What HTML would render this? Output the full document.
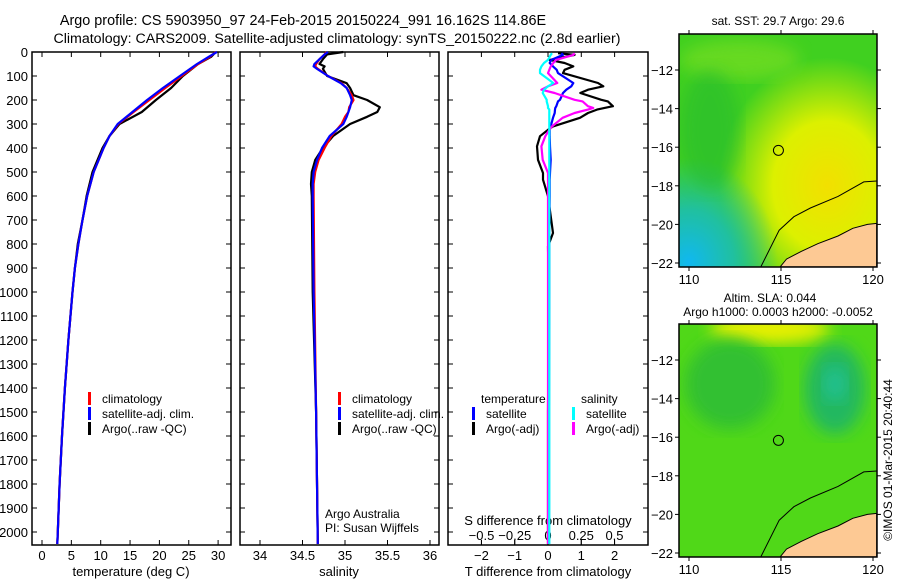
<!DOCTYPE html>
<html><head><meta charset="utf-8"><style>
body{margin:0;background:#fff;}
svg{display:block;font-family:"Liberation Sans",sans-serif;}
</style></head><body>
<svg id="fig" width="900" height="580" viewBox="0 0 900 580">
<defs>
<radialGradient id="sstY" cx="0.75" cy="0.65" r="0.55"><stop offset="0" stop-color="#f2e000"/><stop offset="0.5" stop-color="#dcf000"/><stop offset="1" stop-color="#dcf000" stop-opacity="0"/></radialGradient>
<radialGradient id="sstB" cx="0.05" cy="0.98" r="0.45"><stop offset="0" stop-color="#10b8f0"/><stop offset="0.5" stop-color="#20c0a0"/><stop offset="1" stop-color="#20c0a0" stop-opacity="0"/></radialGradient>
<filter id="bl"><feGaussianBlur stdDeviation="8"/></filter>
</defs>
<g id="titles">
<text x="303" y="25" font-size="14.4" text-anchor="middle">Argo profile: CS 5903950_97 24-Feb-2015 20150224_991 16.162S 114.86E</text>
<text x="337" y="43" font-size="14.2" text-anchor="middle">Climatology: CARS2009. Satellite-adjusted climatology: synTS_20150222.nc (2.8d earlier)</text>
</g>
<g id="panels"></g>
<g id="maps"></g>
</svg>
<script>
const NS="http://www.w3.org/2000/svg";
function el(p,t,a){const e=document.createElementNS(NS,t);for(const k in a)e.setAttribute(k,a[k]);p.appendChild(e);return e;}
const fig=document.getElementById('fig');
const panelsG=document.getElementById('panels');
// ---------- data ----------
const depthTicks=[0,100,200,300,400,500,600,700,800,900,1000,1100,1200,1300,1400,1500,1600,1700,1800,1900,2000];
const tempTicks=[0,5,10,15,20,25,30];
const salTicks=[34,34.5,35,35.5,36];
const tdiffTicks=[-2,-1,0,1,2];
const sdiffTicks=[-0.5,-0.25,0,0.25,0.5];
const tDepth=[0,20,50,100,150,200,250,300,350,400,500,600,700,800,900,1000,1200,1400,1600,1800,2000,2050];
const tClim=[29.6,28.6,26.6,23.8,21.0,18.3,15.6,13.0,11.5,10.5,8.8,7.7,6.9,6.2,5.6,5.2,4.5,3.9,3.4,3.0,2.7,2.6];
const tSat=[29.8,28.4,26.4,23.5,20.6,17.9,15.4,12.9,11.5,10.5,8.8,7.7,6.9,6.2,5.6,5.2,4.5,3.9,3.4,3.0,2.7,2.6];
const tArgo=[29.6,28.8,26.6,24.0,22.0,19.4,17.0,13.2,11.5,10.3,8.6,7.6,6.9,6.1,5.6,5.2,4.5,3.9,3.4,3.0,2.7,2.6];
const sDepth=[0,10,30,50,60,70,100,130,150,180,200,230,250,270,300,350,400,450,500,550,600,1000,1500,2050];
const sClim=[34.78,34.76,34.70,34.66,34.65,34.68,34.80,34.96,35.02,35.08,35.10,35.05,35.04,35.00,34.96,34.84,34.76,34.69,34.65,34.63,34.63,34.64,34.66,34.68];
const sSat=[34.80,34.76,34.70,34.64,34.63,34.67,34.80,34.95,35.02,35.06,35.08,35.06,35.04,35.02,34.98,34.82,34.73,34.67,34.63,34.62,34.62,34.63,34.66,34.68];
const sArgo=[34.98,34.79,34.74,34.70,34.76,34.74,34.79,35.02,35.06,35.10,35.26,35.41,35.38,35.26,35.06,34.86,34.74,34.65,34.61,34.60,34.61,34.62,34.66,34.68];
const dDepth=[5,12,33,46,60,74,88,129,143,157,171,199,206,226,233,240,254,274,310,324,351,393,449,504,532,601,754,810,1000,1500,2050];
const dTArgo=[0.3,0.8,0.05,0.5,0.76,0.5,0.45,1.5,1.66,1.2,0.97,1.6,1.8,1.95,1.7,1.47,1.2,0.96,0.15,0.0,-0.24,-0.33,-0.3,-0.15,-0.15,0.0,0.15,0.0,0.02,0.0,0.0];
const dTSat=[0.4,0.45,0.1,0.05,0.15,0.26,0.3,0.76,0.7,0.55,0.45,0.36,0.3,0.25,0.22,0.21,0.2,0.15,0.08,0.05,0.05,0.06,0.08,0.06,0.05,0.05,0.04,0.04,0.04,0.03,0.03];
const dSArgo=[0.2,0.19,0.06,0.04,0.02,0.01,0.0,0.07,0.0,-0.05,0.05,0.2,0.26,0.3,0.34,0.3,0.2,0.11,0.03,0.01,-0.02,-0.05,-0.04,0.0,0.0,0.0,0.0,0.0,0.0,0.0,0.0];
const dSSat=[0.03,0.02,0.0,-0.03,-0.05,-0.06,-0.06,0.04,0.0,-0.03,-0.04,-0.01,-0.01,0.0,0.0,0.01,0.01,0.01,0.01,0.01,0.01,0.01,0.01,0.01,0.01,0.01,0.01,0.01,0.01,0.01,0.01];
// ---------- axes ----------
const yTop=52,yBot=545,pxPer100=24;
const yScale=d=>yTop+d*pxPer100/100;
const P1={x0:32,x1:231},P2={x0:240,x1:439},P3={x0:448,x1:648};
const xT=v=>42+v*5.87;
const xS=v=>260+(v-34)*85;
const xTD=v=>548+v*33.3;
const xSD=v=>548+v*133;
function frame(P,name){
  el(panelsG,'rect',{x:P.x0,y:yTop,width:P.x1-P.x0,height:yBot-yTop,fill:'none',stroke:'#000','stroke-width':1.5,});
  depthTicks.forEach(d=>{const y=yScale(d);
    el(panelsG,'line',{x1:P.x0,x2:P.x0+5,y1:y,y2:y,stroke:'#000'});
    el(panelsG,'line',{x1:P.x1-5,x2:P.x1,y1:y,y2:y,stroke:'#000'});});
}
frame(P1,'temperature-panel');frame(P2,'salinity-panel');frame(P3,'difference-panel');
depthTicks.forEach(d=>{const t=el(panelsG,'text',{x:28,y:yScale(d)+5,'font-size':13,'text-anchor':'end'});t.textContent=d;

});
function xticks(arr,fx,ytext,top){
  arr.forEach(v=>{const x=fx(v);
    el(panelsG,'line',{x1:x,x2:x,y1:yBot,y2:yBot-5,stroke:'#000'});
    if(top) el(panelsG,'line',{x1:x,x2:x,y1:yTop,y2:yTop+5,stroke:'#000'});
    const t=el(panelsG,'text',{x:x,y:ytext,'font-size':13,'text-anchor':'middle'});t.textContent=(v<0?'\u2212'+(-v):v);
    
    });
}
xticks(tempTicks,xT,560,true);xticks(salTicks,xS,560,true);xticks(tdiffTicks,xTD,560,true);
sdiffTicks.forEach(v=>{const x=xSD(v);el(panelsG,'line',{x1:x,x2:x,y1:yBot,y2:yBot-5,stroke:'#000'});
 const t=el(panelsG,'text',{x:x,y:540,'font-size':13,'text-anchor':'middle'});t.textContent=(v<0?'\u2212'+(-v):v);
 
 });
function label(x,y,s,name,anchor,size){const t=el(panelsG,'text',{x:x,y:y,'font-size':size||13,'text-anchor':anchor||'middle'});t.textContent=s;
 
 return t;}
label(131,576,'temperature (deg C)','x-axis-title-temperature');
label(339,576,'salinity','x-axis-title-salinity');
label(548,576,'T difference from climatology','x-axis-title-tdiff');
label(548,525,'S difference from climatology','x-axis-title-sdiff');
// ---------- series ----------
function line(xs,ds,fx,color,name){
  const pts=xs.map((v,i)=>fx(v).toFixed(1)+','+yScale(ds[i]).toFixed(1)).join(' ');
  const p=el(panelsG,'polyline',{points:pts,fill:'none',stroke:color,'stroke-width':2.2,'stroke-linejoin':'round'});
  
  
}
line(tArgo,tDepth,xT,'#000','temp-argo');line(tClim,tDepth,xT,'#f00','temp-climatology');line(tSat,tDepth,xT,'#00f','temp-satellite');
line(sArgo,sDepth,xS,'#000','sal-argo');line(sClim,sDepth,xS,'#f00','sal-climatology');line(sSat,sDepth,xS,'#00f','sal-satellite');
line(dTArgo,dDepth,xTD,'#000','tdiff-argo');line(dTSat,dDepth,xTD,'#00f','tdiff-satellite');
line(dSArgo,dDepth,xSD,'#f0f','sdiff-argo');line(dSSat,dDepth,xSD,'#0ff','sdiff-satellite');
// ---------- legends ----------
function legend(x,y,items,name){items.forEach((it,i)=>{
  el(panelsG,'rect',{x:x,y:y+i*15-11,width:3,height:13,fill:it[0]});
  label(x+14,y+i*15,it[1],name,'start',12);});}
legend(88,403,[['#f00','climatology'],['#00f','satellite-adj. clim.'],['#000','Argo(..raw -QC)']],'legend-entry');
legend(338,403,[['#f00','climatology'],['#00f','satellite-adj. clim.'],['#000','Argo(..raw -QC)']],'legend-entry');
label(481,403,'temperature','legend-header-temperature','start',12);
label(581,403,'salinity','legend-header-salinity','start',12);
legend(472,418,[['#00f','satellite'],['#000','Argo(-adj)']],'legend-entry');
legend(572,418,[['#0ff','satellite'],['#f0f','Argo(-adj)']],'legend-entry');
label(325,518,'Argo Australia','credit-argo-australia','start',12);
label(325,532,'PI: Susan Wijffels','credit-pi','start',12);
// ---------- maps ----------
const mapsG=document.getElementById('maps');
const lonTicks=[110,115,120];const latTicks=[-12,-14,-16,-18,-20,-22];
const lonX=v=>689+(v-110)*18.4;
const latY=(v,top)=>top+36+(-12-v)*19.3;
const coastLon=[114.95,115.3,116.1,117.0,118.1,118.9,119.7,120.2,120.2];
const coastLat=[-22.2,-21.8,-21.4,-21.0,-20.6,-20.2,-20.0,-19.95,-22.2];
const shelfLon=[113.9,114.9,115.7,116.6,118.1,119.5,120.2];
const shelfLat=[-22.2,-20.3,-19.6,-19.15,-18.55,-17.8,-17.75];
const argoLon=[114.86],argoLat=[-16.162];
function map(top,kind,name){
  const g=el(mapsG,'g',{});
  const X0=679,X1=877,Y0=top,Y1=top+233;
  const cp=el(g,'clipPath',{id:'cp'+kind});el(cp,'rect',{x:X0,y:Y0,width:X1-X0,height:Y1-Y0});
  const inner=el(g,'g',{'clip-path':'url(#cp'+kind+')'});
  if(kind==='sst'){
    el(inner,'rect',{x:X0,y:Y0,width:198,height:233,fill:'#40d020'});
    el(inner,'rect',{x:X0,y:Y0,width:198,height:233,fill:'url(#sstY)'});
    el(inner,'rect',{x:X0,y:Y0,width:198,height:233,fill:'url(#sstB)'});
    el(inner,'ellipse',{cx:740,cy:60,rx:60,ry:20,fill:'#80e020',opacity:0.6,filter:'url(#bl)'});
    el(inner,'ellipse',{cx:710,cy:130,rx:30,ry:60,fill:'#20b830',opacity:0.5,filter:'url(#bl)'});
  }else{
    el(inner,'rect',{x:X0,y:Y0,width:198,height:233,fill:'#50d818'});
    el(inner,'ellipse',{cx:770,cy:Y0+5,rx:60,ry:15,fill:'#e8f000',filter:'url(#bl)'});
    el(inner,'ellipse',{cx:730,cy:Y0+60,rx:45,ry:45,fill:'#30c030',filter:'url(#bl)'});
    el(inner,'ellipse',{cx:835,cy:Y0+65,rx:30,ry:45,fill:'#20b860',filter:'url(#bl)'});
    el(inner,'ellipse',{cx:835,cy:Y0+60,rx:12,ry:18,fill:'#20c090',filter:'url(#bl)'});
    [[704,155],[760,152],[776,195],[720,232],[868,190]].forEach(c=>el(inner,'ellipse',{cx:c[0],cy:c[1]-325+Y0,rx:14,ry:16,fill:'#c0f010',filter:'url(#bl)'}));
  }
  const cpts=coastLon.map((v,i)=>lonX(v).toFixed(1)+','+latY(coastLat[i],top).toFixed(1)).join(' ');
  el(inner,'polygon',{points:cpts,fill:'#fdc994',stroke:'#000','stroke-width':1});
  const spts=shelfLon.map((v,i)=>lonX(v).toFixed(1)+','+latY(shelfLat[i],top).toFixed(1)).join(' ');
  el(inner,'polyline',{points:spts,fill:'none',stroke:'#000','stroke-width':1});
  const c=el(g,'circle',{cx:lonX(argoLon[0]),cy:latY(argoLat[0],top),r:5,fill:'none',stroke:'#000'});
  
  el(g,'rect',{x:X0,y:Y0,width:X1-X0,height:Y1-Y0,fill:'none',stroke:'#000','stroke-width':1.5});
  lonTicks.forEach(v=>{const x=lonX(v);el(g,'line',{x1:x,x2:x,y1:Y1,y2:Y1+4,stroke:'#000'});el(g,'line',{x1:x,x2:x,y1:Y0,y2:Y0-4,stroke:'#000'});
    const t=el(g,'text',{x:x,y:Y1+17,'font-size':13,'text-anchor':'middle'});t.textContent=v;
    });
  latTicks.forEach(v=>{const y=latY(v,top);el(g,'line',{x1:X0-4,x2:X0,y1:y,y2:y,stroke:'#000'});el(g,'line',{x1:X1,x2:X1+4,y1:y,y2:y,stroke:'#000'});
    const t=el(g,'text',{x:X0-6,y:y+5,'font-size':13,'text-anchor':'end'});t.textContent='\u2212'+(-v);
    });
}
map(34,'sst','sst-map');map(324,'sla','sla-map');
function mt(x,y,s,name,extra){const t=el(mapsG,'text',Object.assign({x:x,y:y,'font-size':12,'text-anchor':'middle'},extra||{}));t.textContent=s;
 }
mt(778,25,'sat. SST: 29.7  Argo: 29.6','sst-map-title');
mt(770,302,'Altim. SLA: 0.044','sla-map-title');
mt(778,316,'Argo h1000: 0.0003 h2000: -0.0052','sla-map-subtitle');
mt(892,460,'\u00a9IMOS 01-Mar-2015 20:40:44','imos-credit',{transform:'rotate(-90 892 460)'});
</script>
</body></html>
